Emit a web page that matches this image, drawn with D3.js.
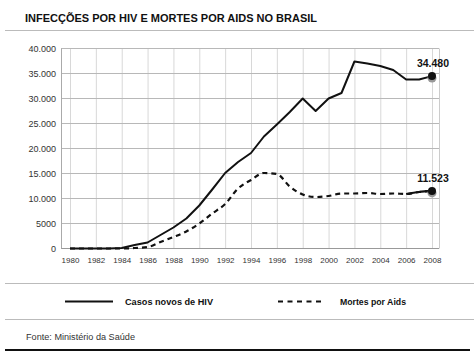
<!DOCTYPE html>
<html><head><meta charset="utf-8">
<script src="https://cdn.jsdelivr.net/npm/d3@7"></script>
<style>body{margin:0;background:#fff}svg{display:block}text{font-family:"Liberation Sans",Arial,sans-serif}</style>
</head><body>
<svg id="c" width="474" height="355"></svg>
<script>
const years = d3.range(1980, 2009);
const casosHIV = [0,0,0,0,100,700,1200,2700,4200,6000,8600,11800,15100,17300,19100,22400,24800,27300,30000,27500,30000,31100,37400,37000,36500,35700,33800,33800,34480];
const mortesAids = [0,0,0,0,0,100,300,1300,2300,3400,5000,7000,8900,12000,13700,15100,14900,12400,10800,10300,10500,11000,11000,11100,10900,11000,10900,11300,11523];
const yTicks = [0,5000,10000,15000,20000,25000,30000,35000,40000];
const xTicks = d3.range(1980, 2009, 2);
const endLabels = ["34.480","11.523"];
const legendLabels = ["Casos novos de HIV","Mortes por Aids"];
const titleText = "INFECÇÕES POR HIV E MORTES POR AIDS NO BRASIL";
const sourceText = "Fonte: Ministério da Saúde";

const svg = d3.select("#c");
const x = d3.scaleLinear().domain([1980,2008]).range([70,432]);
const y = d3.scaleLinear().domain([0,40000]).range([248.5,48.5]);
const L = 61, R = 439;

// title
svg.append("text").attr("x",25).attr("y",21.5).attr("font-size",11).attr("font-weight","bold")
  .attr("textLength",292).attr("lengthAdjust","spacingAndGlyphs").attr("fill","#111").text(titleText);
svg.append("line").attr("x1",5).attr("x2",474).attr("y1",30.5).attr("y2",30.5).attr("stroke","#bbb").attr("stroke-width",1);

// grid
const g = svg.append("g");
g.selectAll(".vg").data(xTicks).join("line")
  .attr("x1",d=>x(d)+0.5).attr("x2",d=>x(d)+0.5).attr("y1",y(40000)).attr("y2",y(0))
  .attr("stroke","#d8d8d8").attr("stroke-width",1);
g.selectAll(".hg").data(yTicks).join("line")
  .attr("x1",L).attr("x2",R).attr("y1",d=>y(d)).attr("y2",d=>y(d))
  .attr("stroke",d=>d===0?"#999":"#b8b8b8").attr("stroke-width",d=>d===0?1.2:1);
g.append("line").attr("x1",L+0.5).attr("x2",L+0.5).attr("y1",y(40000)).attr("y2",y(0)).attr("stroke","#aaa");
g.append("line").attr("x1",R+0.5).attr("x2",R+0.5).attr("y1",y(40000)).attr("y2",y(0)).attr("stroke","#ccc");

// axes
const yAxis = d3.axisLeft(y).tickValues(yTicks).tickSize(0).tickPadding(0)
  .tickFormat(d => d>=10000 ? d3.format(",")(d).replace(/,/g,".") : String(d));
const ya = svg.append("g").attr("transform",`translate(56,0)`).call(yAxis);
ya.select(".domain").remove();
ya.selectAll("text").attr("font-size",9).attr("fill","#333").attr("font-family","Liberation Sans, Arial, sans-serif").attr("dy","0.35em");

const xAxis = d3.axisBottom(x).tickValues(xTicks).tickSize(0).tickPadding(0).tickFormat(d3.format("d"));
const xa = svg.append("g").attr("transform",`translate(0,257)`).call(xAxis);
xa.select(".domain").remove();
xa.selectAll("text").attr("font-size",8).attr("fill","#333").attr("font-family","Liberation Sans, Arial, sans-serif");

// lines
const lineLin = d3.line().x((d,i)=>x(years[i])).y(d=>y(d));
const line = d3.line().x((d,i)=>x(years[i])).y(d=>y(d)).curve(d3.curveMonotoneX);
const lineS = d3.line().x(d=>x(d[0])).y(d=>y(d[1])).curve(d3.curveMonotoneX);
svg.append("path").attr("d",lineLin(casosHIV)).attr("fill","none").attr("stroke","#111").attr("stroke-width",2).attr("stroke-linejoin","round");
svg.append("path").attr("d",line(mortesAids)).attr("fill","none").attr("stroke","#111").attr("stroke-width",2.2).attr("stroke-dasharray","5,4");
const tail = years.map((yr,i)=>[yr,mortesAids[i]]).slice(-3);
svg.append("path").attr("d",lineS(tail)).attr("fill","none").attr("stroke","#111").attr("stroke-width",2.2);

// end markers
const ends = [[2008,casosHIV[casosHIV.length-1],endLabels[0]],[2008,mortesAids[mortesAids.length-1],endLabels[1]]];
ends.forEach(([yr,v,lab])=>{
  svg.append("circle").attr("cx",x(yr)).attr("cy",y(v)+2).attr("r",4.5).attr("fill","#999");
  svg.append("circle").attr("cx",x(yr)).attr("cy",y(v)).attr("r",4).attr("fill","#111");
  svg.append("text").attr("x",x(yr)+1).attr("y",y(v)-9).attr("text-anchor","middle").attr("font-size",10.5).attr("font-weight","bold").attr("fill","#111").text(lab);
});

// legend
svg.append("line").attr("x1",5).attr("x2",474).attr("y1",283.5).attr("y2",283.5).attr("stroke","#bbb");
svg.append("line").attr("x1",65).attr("x2",113).attr("y1",301.5).attr("y2",301.5).attr("stroke","#111").attr("stroke-width",2);
svg.append("text").attr("x",125).attr("y",305).attr("font-size",9).attr("font-weight","bold").attr("fill","#111")
  .attr("textLength",88).attr("lengthAdjust","spacingAndGlyphs").text(legendLabels[0]);
svg.append("line").attr("x1",278).attr("x2",325).attr("y1",301.5).attr("y2",301.5).attr("stroke","#111").attr("stroke-width",2).attr("stroke-dasharray","5,4.5");
svg.append("text").attr("x",340).attr("y",305).attr("font-size",9).attr("font-weight","bold").attr("fill","#111")
  .attr("textLength",66).attr("lengthAdjust","spacingAndGlyphs").text(legendLabels[1]);
svg.append("line").attr("x1",5).attr("x2",474).attr("y1",319.5).attr("y2",319.5).attr("stroke","#bbb");

// source
svg.append("text").attr("x",26).attr("y",340).attr("font-size",8.5).attr("fill","#333")
  .attr("textLength",109).attr("lengthAdjust","spacingAndGlyphs").text(sourceText);
svg.append("line").attr("x1",5).attr("x2",470).attr("y1",350).attr("y2",350).attr("stroke","#111").attr("stroke-width",2);
</script>
</body></html>
